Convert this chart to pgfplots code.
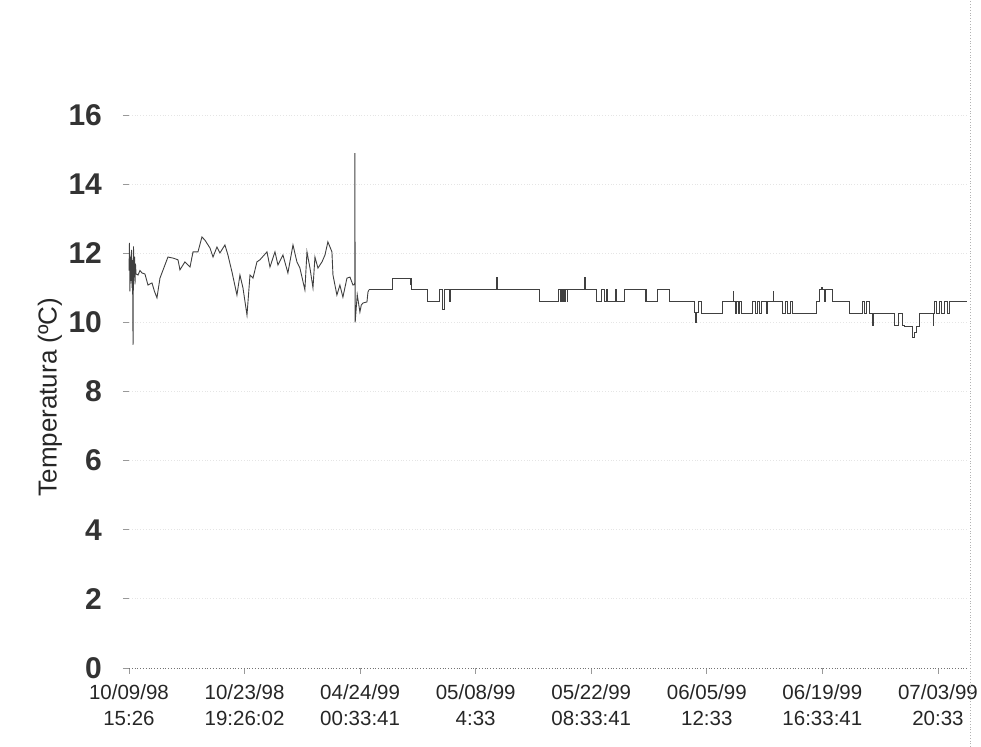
\documentclass[border=0pt]{standalone}
\usepackage{fontspec}
\setmainfont{Liberation Sans}
\usepackage{pgfplots}
\pgfplotsset{compat=1.18}

\begin{document}
\begin{tikzpicture}
% page frame: 981 x 747 px at 0.5pt per px
\path[use as bounding box] (-64.5pt,-39.5pt) rectangle (426pt,334pt);
\begin{axis}[
    scale only axis,
    width=419.5pt, height=276.5pt,
    at={(0,0)}, anchor=origin,
    xmin=0, xmax=7.26,
    ymin=0, ymax=16,
    ytick={0,2,...,16},
    xtick={0,...,7},
    xticklabels={10/09/98\\15:26, 10/23/98\\19:26:02, 04/24/99\\00:33:41, 05/08/99\\4:33,
                 05/22/99\\08:33:41, 06/05/99\\12:33, 06/19/99\\16:33:41, 07/03/99\\20:33},
    xticklabel style={align=center, font=\fontsize{10.25}{13}\selectfont, text=black!85, yshift=-2pt},
    yticklabel style={font=\fontsize{15}{17}\selectfont\bfseries, text=black!80, xshift=-7pt},
    /pgf/number format/assume math mode=true,
    axis lines*=left,
    x axis line style={densely dotted, black!55},
    y axis line style={draw=none},
    tick align=outside,
    major tick length=3pt,
    tick style={black!40, thin},
    ymajorgrids,
    major grid style={densely dotted, black!10},
    ylabel={Temperatura (ºC)},
    ylabel style={at={(axis description cs:-0.0942,0.49)}, anchor=center,
                  font=\fontsize{13}{15}\selectfont, text=black!85},
    clip=false,
]
% first period: continuous readings
\addplot[black!75, line width=0.45pt] coordinates {
(0.000,11.5) (0.004,12.3) (0.008,10.9) (0.013,11.9) (0.017,11.2) (0.022,12.1)
(0.026,11.0) (0.030,11.8) (0.035,9.35) (0.039,12.2) (0.043,11.3) (0.048,11.9)
(0.052,11.1) (0.056,11.7) (0.061,11.4) (0.078,11.37) (0.095,11.5) (0.112,11.43)
(0.138,11.40) (0.164,11.08) (0.199,11.14) (0.220,10.9) (0.242,10.71) (0.268,11.28)
(0.311,11.66) (0.337,11.89) (0.381,11.86) (0.424,11.81) (0.441,11.52) (0.484,11.75)
(0.528,11.60) (0.554,12.04) (0.597,12.04) (0.631,12.47) (0.657,12.38) (0.701,12.15)
(0.727,11.89) (0.761,12.18) (0.787,12.01) (0.830,12.24) (0.856,11.95) (0.891,11.46)
(0.934,10.79) (0.960,11.37) (0.986,11.00) (1.021,10.21) (1.047,11.37) (1.073,11.28)
(1.107,11.75) (1.133,11.81) (1.194,12.04) (1.220,11.60) (1.263,12.04) (1.289,11.66)
(1.332,11.95) (1.375,11.43) (1.419,12.24) (1.453,11.75) (1.479,11.57) (1.522,10.94)
(1.540,12.04) (1.566,11.57) (1.592,11.00) (1.609,11.89) (1.635,11.57) (1.670,11.75)
(1.696,11.95) (1.721,12.33) (1.756,12.04) (1.765,11.37) (1.799,10.79) (1.825,11.08)
(1.851,10.73) (1.886,11.28) (1.912,11.31) (1.938,11.08) (1.953,11.10) (1.955,14.90)
(1.957,10.00) (1.975,10.80) (1.998,10.30) (2.010,10.50) (2.024,10.56) (2.059,10.59)
(2.068,10.88) (2.076,10.94)
};
% second period: quantised readings, held between samples
\addplot[black!75, line width=0.45pt, const plot] coordinates {
(2.076,10.94) (2.276,11.28) (2.432,11.10) (2.440,11.28) (2.448,10.94)
(2.579,10.60) (2.690,10.94) (2.716,10.36) (2.730,10.94) (2.770,10.60) (2.780,10.94)
(3.183,11.30) (3.190,10.94) (3.556,10.60)
(3.720,10.94) (3.730,10.60) (3.740,10.94) (3.750,10.60) (3.760,10.94) (3.770,10.60)
(3.780,10.94) (3.790,10.60) (3.798,10.94) (3.945,11.30) (3.950,10.94)
(4.049,10.60) (4.090,10.94) (4.118,10.60)
(4.130,10.94) (4.144,10.60) (4.210,10.94) (4.220,10.60)
(4.291,10.94) (4.470,10.60) (4.475,10.94) (4.481,10.60)
(4.576,10.94) (4.680,10.60) (4.890,10.30) (4.900,10.01)
(4.913,10.30) (4.930,10.60) (4.957,10.27) (5.139,10.60)
(5.228,10.88) (5.232,10.60) (5.250,10.27) (5.260,10.60) (5.270,10.27)
(5.285,10.60) (5.300,10.27) (5.398,10.60) (5.420,10.27) (5.440,10.60)
(5.458,10.27) (5.476,10.60) (5.519,10.27) (5.528,10.60) (5.573,10.90)
(5.575,10.60) (5.657,10.27) (5.680,10.60) (5.700,10.27) (5.720,10.60)
(5.740,10.27) (5.952,10.60) (5.978,10.94) (5.990,11.00) (6.000,10.94)
(6.021,10.60) (6.030,10.94) (6.090,10.60) (6.238,10.27)
(6.349,10.60) (6.360,10.27) (6.380,10.60) (6.410,10.27) (6.436,9.92)
(6.440,10.27) (6.627,9.92) (6.660,10.27) (6.696,9.92) (6.713,9.87)
(6.782,9.55) (6.800,9.70) (6.817,9.87) (6.843,10.27)
(6.960,9.92) (6.965,10.27) (6.972,10.60) (6.990,10.27) (7.016,10.60) (7.030,10.27)
(7.059,10.60) (7.080,10.27) (7.102,10.60) (7.249,10.60)
};
\draw[densely dotted, black!30] (rel axis cs:1,0) ++(1pt,-39.5pt) -- ++(0,373.5pt);
\end{axis}
\end{tikzpicture}
\end{document}
